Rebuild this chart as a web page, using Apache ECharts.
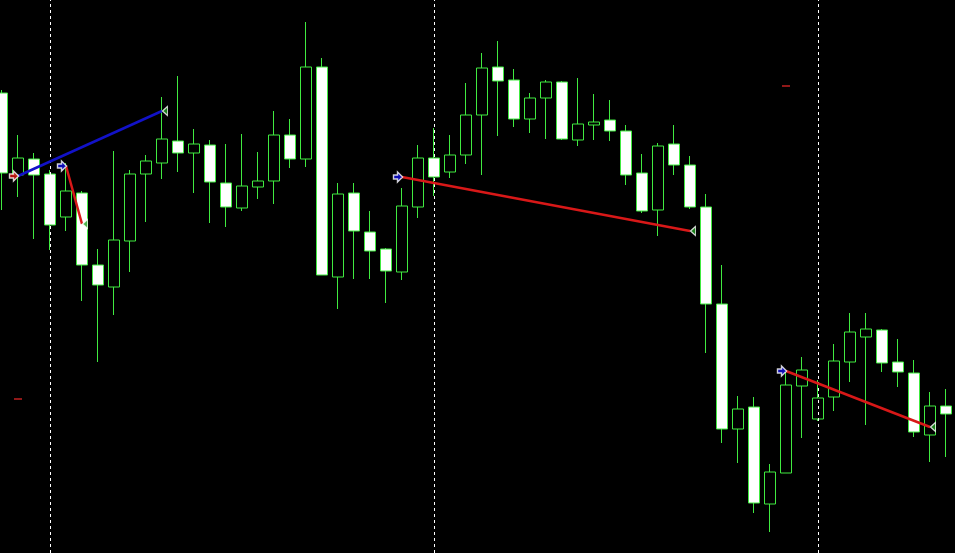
<!DOCTYPE html>
<html>
<head>
<meta charset="utf-8">
<script src="https://cdn.jsdelivr.net/npm/echarts@6/dist/echarts.min.js"></script>
<style>
html,body{margin:0;padding:0;background:#000;overflow:hidden;width:955px;height:553px;}
#chart{position:absolute;left:-6px;top:0;width:960px;height:553px;}
</style>
</head>
<body>
<div id="chart"></div>
<script>
// Hourly bars (category labels)
const categories = [];
for (let i = 0; i < 60; i++) { categories.push(String((21 + i) % 24).padStart(2, '0') + ':00'); }

// OHLC (open, close, low, high)
const opens  = [159.07,158.25,158.41,158.26,157.83,158.07,157.35,157.13,157.59,158.26,
                158.37,158.59,158.47,158.55,158.17,157.92,158.13,158.19,158.65,158.41,
                159.33,157.23,158.07,157.68,157.51,157.28,157.93,158.42,158.28,158.45,
                158.85,159.33,159.20,158.81,159.02,159.18,158.60,158.75,158.80,158.69,
                158.27,157.90,158.56,158.35,157.93,156.96,155.71,155.93,154.96,155.27,
                156.14,155.81,156.03,156.38,156.63,156.70,156.38,156.27,155.65,155.94];
const closes = [158.27,158.42,158.25,157.75,158.09,157.35,157.15,157.60,158.26,158.39,
                158.61,158.47,158.56,158.18,157.93,158.14,158.19,158.65,158.41,159.33,
                157.25,158.06,157.69,157.49,157.29,157.94,158.42,158.23,158.45,158.85,
                159.32,159.19,158.81,159.02,159.18,158.61,158.76,158.78,158.69,158.25,
                157.89,158.54,158.35,157.93,156.96,155.71,155.91,154.97,155.28,156.15,
                156.30,156.02,156.39,156.68,156.71,156.37,156.28,155.68,155.94,155.86];
const lows   = [157.90,158.03,157.61,157.50,157.69,156.99,156.38,156.85,157.28,157.78,
                158.21,158.28,158.07,157.77,157.73,157.89,158.01,157.96,158.32,158.33,
                157.25,156.91,157.21,157.21,156.97,157.20,157.82,158.04,158.22,158.36,
                158.25,158.64,158.73,158.67,158.61,158.60,158.54,158.60,158.59,158.15,
                157.87,157.64,158.25,157.91,156.47,155.57,155.37,154.87,154.68,155.27,
                155.62,155.79,155.89,156.18,155.75,156.28,156.13,155.63,155.38,155.43];
const highs  = [159.10,158.65,158.47,158.30,158.37,158.09,157.51,158.49,158.30,158.45,
                159.03,159.24,158.71,158.60,158.56,158.66,158.48,158.89,158.81,159.78,
                159.42,158.17,158.17,157.89,157.52,158.12,158.55,158.72,158.65,159.17,
                159.47,159.59,159.31,159.07,159.20,159.19,159.22,159.06,159.00,158.75,
                158.46,158.57,158.75,158.44,158.06,157.35,156.04,156.03,155.36,156.28,
                156.43,156.20,156.56,156.87,156.87,156.71,156.61,156.40,156.08,156.11];

// Day separators (bar index)
const separators = [3, 27, 51];

// Trades: [openBar, openPrice, closeBar, closePrice]
const buyTrades  = [[1, 158.24, 10, 158.89]];
const sellTrades = [[4, 158.34, 5, 157.76], [25, 158.23, 43, 157.69], [49, 156.29, 58, 155.73]];

// Stop/target level dashes: [bar, price]
const levelMarks = [[1, 156.01], [49, 159.14]];

const priceMin = 154.47, priceMax = 160.00;

const ohlc = opens.map((o, i) => [o, closes[i], lows[i], highs[i]]);

const arrowPath = 'path://M0,3 L4,3 L4,0 L9,5 L4,10 L4,7 L0,7 Z';
const closePath = 'path://M6,0 L0,5 L6,10 Z';

const series = [{
  type: 'candlestick',
  data: ohlc,
  barWidth: 11,
  itemStyle: { color: '#000000', color0: '#ffffff', borderColor: '#40ea40', borderColor0: '#40ea40', borderWidth: 1 },
  z: 2,
  markLine: {
    symbol: 'none', silent: true, animation: false,
    label: { show: false },
    lineStyle: { color: '#ffffff', type: [3, 3], width: 1 },
    data: separators.map(s => ({ xAxis: s }))
  }
}];

function addTrades(trades, lineColor, arrowColor) {
  trades.forEach(t => {
    series.push({
      type: 'line', xAxisIndex: 1, data: [[t[0], t[1]], [t[2], t[3]]],
      symbol: 'none', lineStyle: { color: lineColor, width: 2.5 }, z: 5, silent: true
    });
    series.push({
      type: 'scatter', xAxisIndex: 1, data: [[t[0], t[1]]],
      symbol: arrowPath, symbolSize: [9, 10], symbolOffset: [-4, 0],
      itemStyle: { color: arrowColor, borderColor: '#ffffff', borderWidth: 1.5 }, z: 6, silent: true
    });
    series.push({
      type: 'scatter', xAxisIndex: 1, data: [[t[2], t[3]]],
      symbol: closePath, symbolSize: [5, 9], symbolOffset: [3, 0],
      itemStyle: { color: '#1f9f1f', borderColor: '#ffffff', borderWidth: 1.2 }, z: 6, silent: true
    });
  });
}
addTrades(buyTrades, '#1212c8', '#e01010');
addTrades(sellTrades, '#d81818', '#1010e0');

series.push({
  type: 'scatter', xAxisIndex: 1, data: levelMarks,
  symbol: 'rect', symbolSize: [8, 2],
  itemStyle: { color: '#b41e1e' }, z: 4, silent: true
});

const chart = echarts.init(document.getElementById('chart'), null, { renderer: 'canvas' });
chart.setOption({
  backgroundColor: '#000000',
  animation: false,
  grid: { left: 0, right: 0, top: 0, bottom: 0, containLabel: false },
  xAxis: [
    { type: 'category', data: categories, boundaryGap: true, show: false },
    { type: 'value', min: -0.5, max: 59.5, show: false }
  ],
  yAxis: { type: 'value', min: priceMin, max: priceMax, show: false, splitLine: { show: false } },
  series: series
});
</script>
</body>
</html>
